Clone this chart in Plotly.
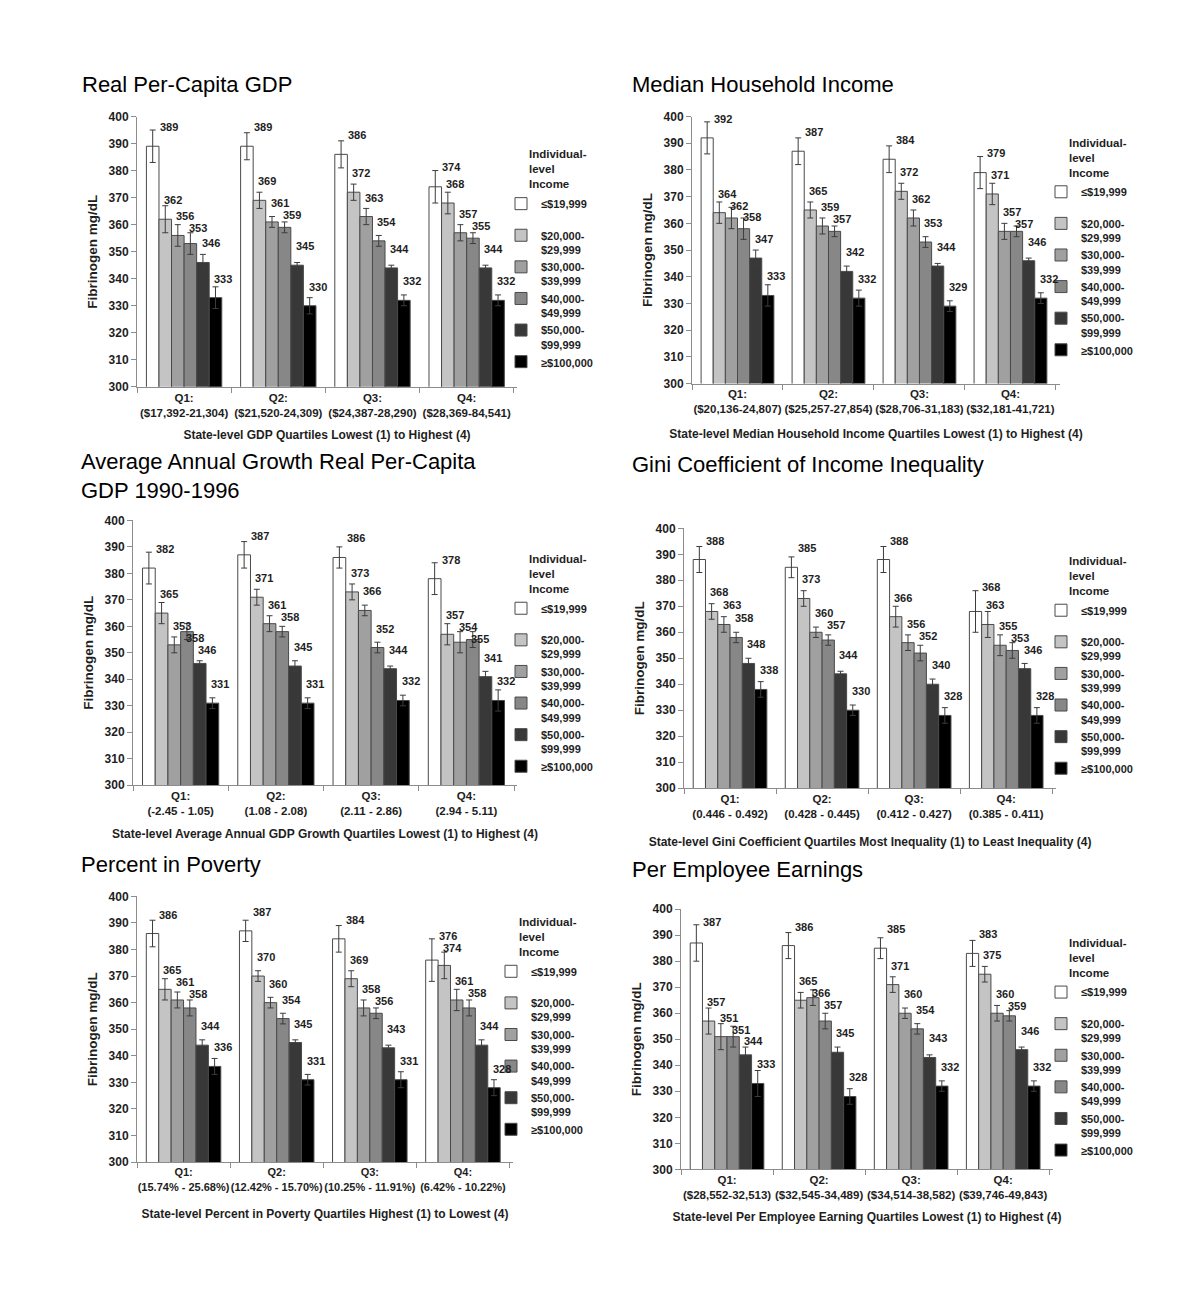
import plotly.graph_objects as go

# ---------------- data ----------------
income_labels = ["≤$19,999", "$20,000-<br>$29,999", "$30,000-<br>$39,999",
                 "$40,000-<br>$49,999", "$50,000-<br>$99,999", "≥$100,000"]
bar_colors = ["#ffffff", "#c4c4c4", "#a0a0a0", "#878787", "#383838", "#000000"]

gdp_title = "Real Per-Capita GDP"
gdp_xtitle = "State-level GDP Quartiles Lowest (1) to Highest (4)"
gdp_cats = ["Q1:<br>($17,392-21,304)", "Q2:<br>($21,520-24,309)",
            "Q3:<br>($24,387-28,290)", "Q4:<br>($28,369-84,541)"]
gdp_vals = [[389, 389, 386, 374], [362, 369, 372, 368], [356, 361, 363, 357],
            [353, 359, 354, 355], [346, 345, 344, 344], [333, 330, 332, 332]]
gdp_err = [[6, 5, 5, 6], [5, 3, 3, 4], [4, 2, 3, 3],
           [4, 2, 2, 2], [3, 1, 1, 1], [4, 3, 2, 2]]

hh_title = "Median Household Income"
hh_xtitle = "State-level Median Household Income Quartiles Lowest (1) to Highest (4)"
hh_cats = ["Q1:<br>($20,136-24,807)", "Q2:<br>($25,257-27,854)",
           "Q3:<br>($28,706-31,183)", "Q4:<br>($32,181-41,721)"]
hh_vals = [[392, 387, 384, 379], [364, 365, 372, 371], [362, 359, 362, 357],
           [358, 357, 353, 357], [347, 342, 344, 346], [333, 332, 329, 332]]
hh_err = [[6, 5, 5, 6], [4, 3, 3, 4], [4, 3, 3, 3],
          [4, 2, 2, 2], [3, 2, 1, 1], [4, 3, 2, 2]]

growth_title = "Average Annual Growth Real Per-Capita<br>GDP 1990-1996"
growth_xtitle = "State-level Average Annual GDP Growth Quartiles Lowest (1) to Highest (4)"
growth_cats = ["Q1:<br>(-2.45 - 1.05)", "Q2:<br>(1.08 - 2.08)",
               "Q3:<br>(2.11 - 2.86)", "Q4:<br>(2.94 - 5.11)"]
growth_vals = [[382, 387, 386, 378], [365, 371, 373, 357], [353, 361, 366, 354],
               [358, 358, 352, 355], [346, 345, 344, 341], [331, 331, 332, 332]]
growth_err = [[6, 5, 4, 6], [4, 3, 3, 4], [3, 3, 2, 4],
              [3, 2, 2, 3], [1, 2, 1, 2], [2, 2, 2, 4]]

gini_title = "Gini Coefficient of Income Inequality"
gini_xtitle = "State-level Gini Coefficient Quartiles Most Inequality (1) to Least Inequality (4)"
gini_cats = ["Q1:<br>(0.446 - 0.492)", "Q2:<br>(0.428 - 0.445)",
             "Q3:<br>(0.412 - 0.427)", "Q4:<br>(0.385 - 0.411)"]
gini_vals = [[388, 385, 388, 368], [368, 373, 366, 363], [363, 360, 356, 355],
             [358, 357, 352, 353], [348, 344, 340, 346], [338, 330, 328, 328]]
gini_err = [[5, 4, 5, 8], [3, 3, 4, 5], [3, 2, 3, 4],
            [2, 2, 3, 3], [2, 1, 2, 2], [3, 2, 3, 3]]

pov_title = "Percent in Poverty"
pov_xtitle = "State-level Percent in Poverty Quartiles Highest (1) to Lowest (4)"
pov_cats = ["Q1:<br>(15.74% - 25.68%)", "Q2:<br>(12.42% - 15.70%)",
            "Q3:<br>(10.25% - 11.91%)", "Q4:<br>(6.42% - 10.22%)"]
pov_vals = [[386, 387, 384, 376], [365, 370, 369, 374], [361, 360, 358, 361],
            [358, 354, 356, 358], [344, 345, 343, 344], [336, 331, 331, 328]]
pov_err = [[5, 4, 5, 8], [4, 2, 3, 5], [3, 2, 3, 4],
           [3, 2, 2, 3], [2, 1, 1, 2], [3, 2, 3, 3]]

earn_title = "Per Employee Earnings"
earn_xtitle = "State-level Per Employee Earning Quartiles Lowest (1) to Highest (4)"
earn_cats = ["Q1:<br>($28,552-32,513)", "Q2:<br>($32,545-34,489)",
             "Q3:<br>($34,514-38,582)", "Q4:<br>($39,746-49,843)"]
earn_vals = [[387, 386, 385, 383], [357, 365, 371, 375], [351, 366, 360, 360],
             [351, 357, 354, 359], [344, 345, 343, 346], [333, 328, 332, 332]]
earn_err = [[7, 5, 4, 5], [5, 3, 3, 3], [5, 3, 2, 3],
            [4, 3, 2, 2], [3, 2, 1, 1], [5, 3, 2, 2]]

y_ticks = [300, 310, 320, 330, 340, 350, 360, 370, 380, 390, 400]

# ---------------- layout geometry (pixels) ----------------
W, H = 1200, 1299
FONT = "Liberation Sans, Arial, sans-serif"
TXT = "#1e1e1e"
AX = "#8c8c8c"
BARGAP = 0.2
LABEL_LIFT = 19      # px above bar top for value labels
LABEL_STEP = 12      # min vertical step between neighbouring labels

panels = [
    dict(title=gdp_title, xtitle=gdp_xtitle, cats=gdp_cats, vals=gdp_vals, err=gdp_err,
         box=(137, 517, 110.7, 384), title_xy=(80, 78), leg_xy=(527, 141), xstand=12, tick=11.5),
    dict(title=hh_title, xtitle=hh_xtitle, cats=hh_cats, vals=hh_vals, err=hh_err,
         box=(692, 1060, 110.7, 380.7), title_xy=(630, 78), leg_xy=(1067, 129), xstand=15, tick=11.5),
    dict(title=growth_title, xtitle=growth_xtitle, cats=growth_cats, vals=growth_vals, err=growth_err,
         box=(133, 517, 519, 786.7), title_xy=(79, 474), leg_xy=(527, 550), xstand=13, tick=11.5),
    dict(title=gini_title, xtitle=gini_xtitle, cats=gini_cats, vals=gini_vals, err=gini_err,
         box=(684, 1056, 527, 789.7), title_xy=(630, 462), leg_xy=(1067, 552), xstand=18, tick=11.5),
    dict(title=pov_title, xtitle=pov_xtitle, cats=pov_cats, vals=pov_vals, err=pov_err,
         box=(137, 513, 899, 1167.7), title_xy=(79, 867), leg_xy=(517, 917), xstand=17, tick=11),
    dict(title=earn_title, xtitle=earn_xtitle, cats=earn_cats, vals=earn_vals, err=earn_err,
         box=(681, 1053, 912, 1175), title_xy=(630, 872), leg_xy=(1067, 938), xstand=12, tick=11.5),
]

fig = go.Figure()
annotations = []
layout_axes = {}

for k, p in enumerate(panels, start=1):
    sfx = "" if k == 1 else str(k)
    xref, yref = "x" + sfx, "y" + sfx
    legname = "legend" + sfx
    left, right, top, bottom = p["box"]
    plot_w = right - left
    ppu = (bottom - top) / 100.0          # pixels per data unit
    bw = plot_w * (1 - BARGAP) / 4 / 6

    for i, lab in enumerate(income_labels):
        name = lab + "<br>\u00a0" if i == 0 else lab
        fig.add_trace(go.Bar(
            x=p["cats"], y=p["vals"][i], name=name,
            marker=dict(color=bar_colors[i], line=dict(color="#4a4a4a", width=1)),
            error_y=dict(type="data", array=p["err"][i], color="#3c3c3c",
                         thickness=1, width=3),
            xaxis=xref, yaxis=yref, legend=legname, showlegend=True,
            hoverinfo="x+y+name",
        ))

    # value labels: staircase placement so neighbouring labels do not collide
    for j, c in enumerate(p["cats"]):
        prev_pos = None
        for i in range(6):
            v = p["vals"][i][j]
            lift = max(LABEL_LIFT, p["err"][i][j] * ppu + 3)
            pos = (400 - v) * ppu - lift       # label centre, px from plot top
            if prev_pos is not None and pos < prev_pos + LABEL_STEP:
                pos = prev_pos + LABEL_STEP
            prev_pos = pos
            yshift = (400 - v) * ppu - pos
            if i == 0:
                xs = (i - 2.5 + 0.5) * bw - 1
            else:
                xs = (i - 2.5 - 0.5) * bw + 3
            annotations.append(dict(
                x=c, y=v, xref=xref, yref=yref, text=str(v), showarrow=False,
                xanchor="left", yanchor="middle", xshift=xs, yshift=yshift,
                font=dict(family=FONT, size=11, color=TXT, weight="bold"),
            ))

    layout_axes["xaxis" + sfx] = dict(
        domain=[left / W, right / W], anchor=yref,
        showline=True, linecolor=AX, linewidth=1,
        ticks="outside", tickson="boundaries", ticklen=5, tickcolor=AX,
        showgrid=False, type="category", tickangle=0,
        tickfont=dict(family=FONT, size=p["tick"], color=TXT, weight="bold"),
        title=dict(text=p["xtitle"], standoff=p["xstand"],
                   font=dict(family=FONT, size=12, color=TXT, weight="bold")),
    )
    layout_axes["yaxis" + sfx] = dict(
        domain=[1 - bottom / H, 1 - top / H], anchor=xref,
        range=[300, 400], tickvals=y_ticks,
        showline=True, linecolor=AX, linewidth=1,
        ticks="outside", ticklen=5, tickcolor=AX, showgrid=False, zeroline=False,
        tickfont=dict(family=FONT, size=12, color=TXT, weight="bold"),
        title=dict(text="Fibrinogen mg/dL", standoff=7,
                   font=dict(family=FONT, size=13.5, color=TXT, weight="bold")),
    )
    lx, ly = p["leg_xy"]
    layout_axes[legname] = dict(
        x=(lx - 26) / W, y=1 - (ly + 44) / H, xanchor="left", yanchor="top",
        bgcolor="rgba(0,0,0,0)", valign="top", traceorder="normal",
        font=dict(family=FONT, size=11, color=TXT, weight="bold"),
        itemclick=False, itemdoubleclick=False,
    )
    # legend title
    annotations.append(dict(
        x=lx / W, y=1 - ly / H, xref="paper", yref="paper",
        text="Individual-<br>level<br>Income", showarrow=False, align="left",
        xanchor="left", yanchor="top",
        font=dict(family=FONT, size=11.5, color=TXT, weight="bold"),
    ))
    # panel title
    tx, ty = p["title_xy"]
    annotations.append(dict(
        x=tx / W, y=1 - ty / H, xref="paper", yref="paper",
        text=p["title"], showarrow=False, align="left",
        xanchor="left", yanchor="middle",
        font=dict(family=FONT, size=22, color="#000000"),
    ))

fig.update_layout(
    width=W, height=H, margin=dict(l=0, r=0, t=0, b=0),
    paper_bgcolor="white", plot_bgcolor="white",
    barmode="group", bargap=BARGAP, bargroupgap=0,
    annotations=annotations, font=dict(family=FONT, color=TXT),
    **layout_axes,
)

fig.write_html(
    "out.html",
    config={"displayModeBar": False},
    post_script="document.body.style.margin='0';document.body.style.overflow='hidden';",
)
